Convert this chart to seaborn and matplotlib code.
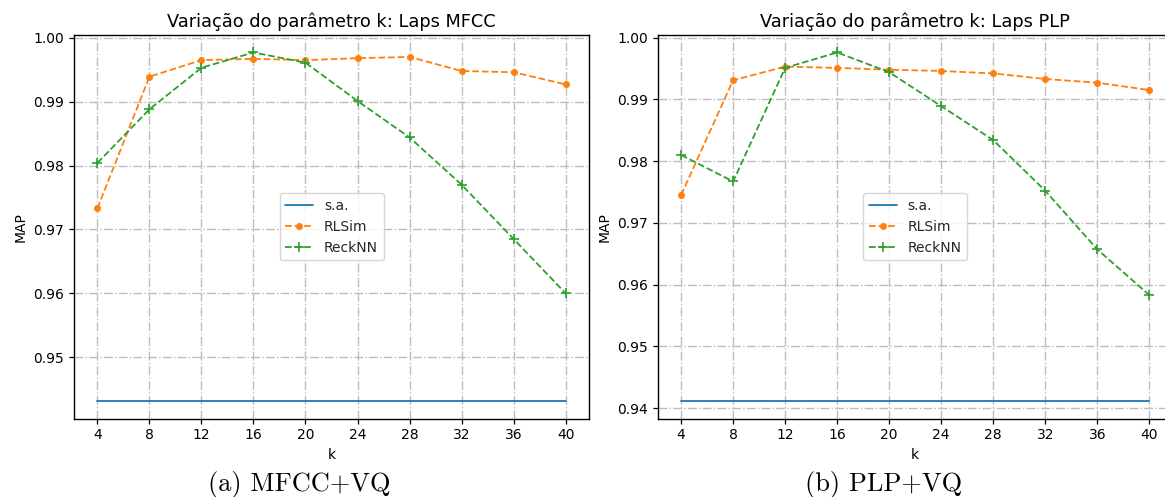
import matplotlib
matplotlib.use("Agg")
import matplotlib.pyplot as plt
from matplotlib.ticker import MultipleLocator
import seaborn as sns

# ---- data ----
k_values = [4, 8, 12, 16, 20, 24, 28, 32, 36, 40]

mfcc_sa = 0.9431
mfcc_rlsim = [0.9733, 0.9939, 0.9965, 0.9967, 0.9965, 0.9968, 0.9970, 0.9948, 0.9946, 0.9927]
mfcc_recknn = [0.9804, 0.9888, 0.9953, 0.9977, 0.9961, 0.9901, 0.9844, 0.9770, 0.9685, 0.9600]

plp_sa = 0.9411
plp_rlsim = [0.9745, 0.9931, 0.9953, 0.9951, 0.9948, 0.9946, 0.9942, 0.9933, 0.9927, 0.9915]
plp_recknn = [0.9810, 0.9767, 0.9951, 0.9976, 0.9944, 0.9889, 0.9834, 0.9752, 0.9657, 0.9583]

titles = ["Variação do parâmetro k: Laps MFCC", "Variação do parâmetro k: Laps PLP"]
captions = ["(a) MFCC+VQ", "(b) PLP+VQ"]
series_labels = ["s.a.", "RLSim", "ReckNN"]

sns.set_theme(style="ticks")
plt.rcParams["font.family"] = ["DejaVu Sans"]
plt.rcParams["xtick.direction"] = "out"
plt.rcParams["ytick.direction"] = "out"

W, H = 1165, 497
fig = plt.figure(figsize=(W / 100, H / 100), dpi=100)

def px_axes(left, top, right, bottom):
    return [left / W, (H - bottom) / H, (right - left) / W, (bottom - top) / H]

axes = [fig.add_axes(px_axes(74, 35, 589, 418.7)),
        fig.add_axes(px_axes(657.7, 35, 1172.7, 418.7))]

datasets = [(mfcc_sa, mfcc_rlsim, mfcc_recknn), (plp_sa, plp_rlsim, plp_recknn)]
blue, orange, green = "#1f77b4", "#ff7f0e", "#2ca02c"

for ax, (sa, rl, rk), title in zip(axes, datasets, titles):
    sns.lineplot(x=k_values, y=[sa] * len(k_values), ax=ax, color=blue,
                 linestyle="-", linewidth=1.3, label=series_labels[0])
    sns.lineplot(x=k_values, y=rl, ax=ax, color=orange, linestyle="--",
                 linewidth=1.3, marker="o", markersize=4.5,
                 markeredgecolor=orange, markerfacecolor=orange, markeredgewidth=0.5,
                 label=series_labels[1])
    sns.lineplot(x=k_values, y=rk, ax=ax, color=green, linestyle="--",
                 linewidth=1.3, marker="+", markersize=7,
                 markeredgecolor=green, markeredgewidth=1.2,
                 label=series_labels[2])
    ax.set_xticks(k_values)
    ax.yaxis.set_major_locator(MultipleLocator(0.01))
    ax.yaxis.set_major_formatter(matplotlib.ticker.FormatStrFormatter("%.2f"))
    ax.margins(x=0.05, y=0.05)
    ax.grid(True, linestyle="-.", color="#bdbdbd", linewidth=1.0)
    ax.set_axisbelow(True)
    for s in ax.spines.values():
        s.set_color("black")
        s.set_linewidth(1.0)
    ax.tick_params(axis="both", labelsize=10, colors="black", length=3.5, width=0.9)
    ax.set_xlabel("k", fontsize=10, color="black")
    ax.set_ylabel("MAP", fontsize=10, color="black")
    ax.set_title(title, fontsize=12.8, color="black", pad=6)
    ax.legend(loc="center", fontsize=10, frameon=True, fancybox=True,
              framealpha=0.8, edgecolor="#cccccc", handlelength=2.0)

fig.text(299 / W, 1 - 491 / H, captions[0], family="cmr10", fontsize=19,
         ha="center", va="baseline", color="black")
fig.text(884 / W, 1 - 491 / H, captions[1], family="cmr10", fontsize=19,
         ha="center", va="baseline", color="black")

fig.savefig("out.png", dpi=100)
